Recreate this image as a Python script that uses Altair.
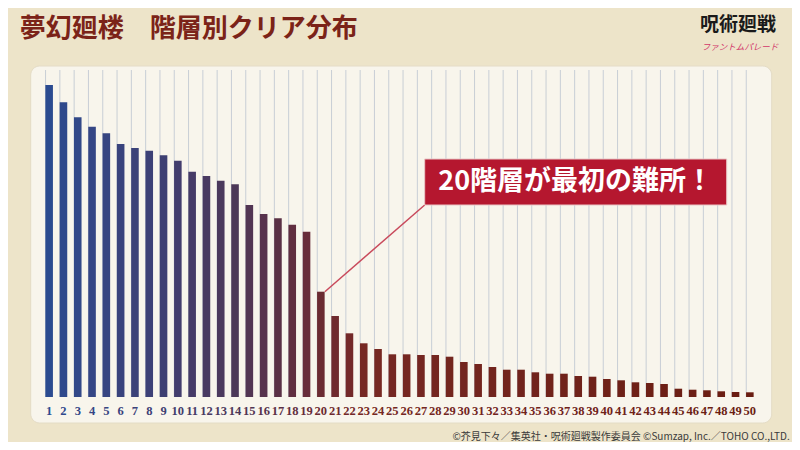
import altair as alt
import pandas as pd

# ---- data (unitless clear counts, relative heights) ----
floors = list(range(1, 51))
clears = [312.0, 294.7, 279.7, 270.3, 263.7, 253.0, 249.0, 246.3, 241.7, 236.3,
          225.3, 221.0, 216.3, 212.7, 192.0, 183.0, 178.7, 172.3, 165.3, 105.3,
          81.0, 63.7, 53.7, 48.0, 42.7, 42.7, 42.0, 42.0, 40.3, 35.0,
          33.0, 30.0, 27.3, 27.3, 24.7, 23.3, 23.3, 21.0, 20.3, 18.0,
          16.7, 14.7, 14.0, 13.0, 8.3, 7.3, 6.7, 5.7, 5.0, 4.7]

title_text = "夢幻廻楼\u3000階層別クリア分布"
callout_text = "20階層が最初の難所！"
callout_floor = 20
logo_text = "呪術廻戦"
logo_sub = "ファントムパレード"
footer_text = "©芥見下々／集英社・呪術廻戦製作委員会 ©Sumzap, Inc.／TOHO CO.,LTD."

color_domain = [1, 9, 14, 17, 20, 23, 50]
color_range = ["#2b4b90", "#3d3f72", "#4c3858", "#5a3045", "#6b2b32", "#762823", "#6a1d12"]

df = pd.DataFrame({"floor": floors, "clear": clears})
one = pd.DataFrame({"k": [0]})
callout_df = df[df["floor"] == callout_floor]

W, H = 715, 327
YMAX = 327

xenc = alt.X("floor:O", axis=None, scale=alt.Scale(paddingInner=0, paddingOuter=0))
yenc = alt.Y("clear:Q", axis=None, scale=alt.Scale(domain=[0, YMAX]))
cenc = alt.Color("floor:Q", legend=None,
                 scale=alt.Scale(domain=color_domain, range=color_range))

panel = alt.Chart(one).mark_rect(
    fill="#f8f5ec", stroke="#e4dcc6", strokeWidth=1, cornerRadius=9
).encode(
    x=alt.value(-11.3), x2=alt.value(729.7), y=alt.value(-4), y2=alt.value(353)
)

grid = alt.Chart(df).mark_rule(color="#c8ced6", strokeWidth=1, xOffset=-3.6).encode(
    x=xenc, y=alt.value(0), y2=alt.value(H)
)

bars = alt.Chart(df).mark_bar(width=alt.RelativeBandSize(0.53)).encode(
    x=xenc, y=yenc, color=cenc
)

labels = alt.Chart(df).mark_text(
    font="Liberation Serif", fontWeight="bold", fontSize=12.5, baseline="middle"
).encode(
    x=xenc, y=alt.value(341), text="floor:O", color=cenc
)

connector = alt.Chart(callout_df).mark_rule(
    color="#c94a5c", strokeWidth=1.5, xOffset=4
).encode(
    x=xenc, y=yenc, x2=alt.value(382.7), y2=alt.value(135)
)

box = alt.Chart(one).mark_rect(fill="#b5172f", stroke="#e9c6c6", strokeWidth=1).encode(
    x=alt.value(382.7), x2=alt.value(684.7), y=alt.value(89), y2=alt.value(135)
)

box_text = alt.Chart(one).mark_text(
    text=callout_text, font="Noto Sans CJK JP", fontWeight="bold", fontSize=27,
    color="white", align="center", baseline="middle"
).encode(x=alt.value(533.7), y=alt.value(112))

title = alt.Chart(one).mark_text(
    text=title_text, font="Noto Sans CJK JP", fontWeight="bold", fontSize=26,
    color="#7b2318", align="left", baseline="middle"
).encode(x=alt.value(-22.3), y=alt.value(-41))

logo = alt.Chart(one).mark_text(
    text=logo_text, font="Noto Sans CJK JP", fontWeight="bold", fontSize=19,
    color="#1a1a1a", align="center", baseline="middle"
).encode(x=alt.value(696), y=alt.value(-45))

logo2 = alt.Chart(one).mark_text(
    text=logo_sub, font="Noto Sans CJK JP", fontSize=8.5, fontStyle="italic",
    color="#d2386a", align="center", baseline="middle"
).encode(x=alt.value(698), y=alt.value(-23))

footer = alt.Chart(one).mark_text(
    text=footer_text, font="Noto Sans CJK JP", fontSize=10,
    color="#3a3a3a", align="right", baseline="middle"
).encode(x=alt.value(747.7), y=alt.value(367))

chart = alt.layer(
    panel, grid, bars, labels, connector, box, box_text, title, logo, logo2, footer
).properties(
    width=W, height=H,
    background="#ede4c9",
    autosize=alt.AutoSizeParams(type="none"),
    padding={"left": 34, "right": 35, "top": 62, "bottom": 45},
).configure_view(stroke=None)

chart.save("out.html", embed_options={"renderer": "svg", "actions": False})
